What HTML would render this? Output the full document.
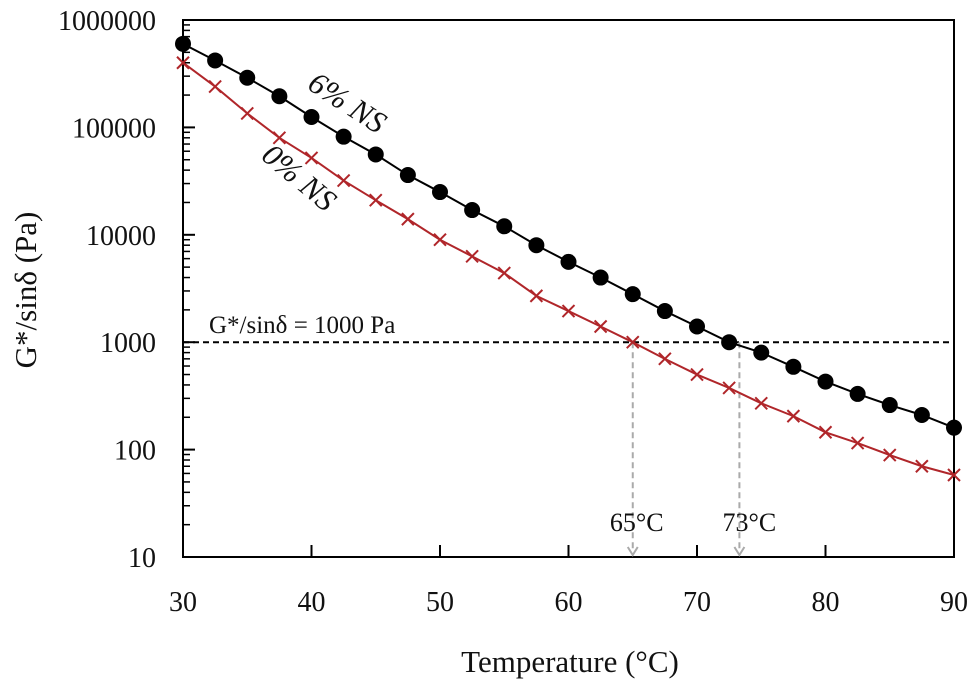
<!DOCTYPE html>
<html><head><meta charset="utf-8"><style>
body{margin:0;background:#fff}
svg text{font-family:"Liberation Serif",serif;fill:#111}
</style></head><body>
<svg id="chart" width="975" height="684" xmlns="http://www.w3.org/2000/svg"></svg>
<script>
const temps=[30,32.5,35,37.5,40,42.5,45,47.5,50,52.5,55,57.5,60,62.5,65,67.5,70,72.5,75,77.5,80,82.5,85,87.5,90];
const ns6=[600000,420000,290000,195000,125000,82000,56000,36000,25000,17000,12000,8000,5600,4000,2800,1950,1400,1000,800,590,430,330,260,210,160];
const ns0=[400000,240000,135000,80000,52000,32000,21000,14000,9000,6300,4400,2700,1950,1400,1000,700,500,375,270,205,145,115,89,70,58];
const xTicks=[30,40,50,60,70,80,90];
const yTicks=[10,100,1000,10000,100000,1000000];
const markers=[65,73.3];
const NS="http://www.w3.org/2000/svg";
const svg=document.getElementById('chart');
const L=183,R=954,T=20,B=557;
const X=v=>L+(v-30)/60*(R-L);
const Y=v=>B-(Math.log10(v)-1)/5*(B-T);
function el(t,a,p){const e=document.createElementNS(NS,t);for(const k in a)e.setAttribute(k,a[k]);(p||svg).appendChild(e);return e;}
let f=el('rect',{x:L,y:T,width:R-L,height:B-T,fill:'none',stroke:'#000','stroke-width':2});


yTicks.forEach(v=>{
 const y=Y(v);
 const t=el('text',{x:156,y:y+10,'text-anchor':'end','font-size':28});t.textContent=v;
 
 
 el('line',{x1:L,x2:L+12,y1:y,y2:y,stroke:'#000','stroke-width':2});
 if(v<1000000)for(let m=2;m<10;m++){const ym=Y(v*m);el('line',{x1:L,x2:L+7,y1:ym,y2:ym,stroke:'#000','stroke-width':1.5});}
});
xTicks.forEach(v=>{
 const x=X(v);
 el('line',{x1:x,x2:x,y1:B,y2:B-12,stroke:'#000','stroke-width':2});
 const t=el('text',{x:x,y:611,'text-anchor':'middle','font-size':28});t.textContent=v;
 
 
});
let t=el('text',{x:570,y:672,'text-anchor':'middle','font-size':31});t.textContent='Temperature (°C)';


t=el('text',{x:0,y:0,'text-anchor':'middle','font-size':31,transform:'translate(36,290) rotate(-90)'});t.textContent='G*/sinδ (Pa)';


let d=el('line',{x1:L,x2:R,y1:Y(1000),y2:Y(1000),stroke:'#000','stroke-width':2,'stroke-dasharray':'6,4'});


t=el('text',{x:209,y:333,'font-size':25});t.textContent='G*/sinδ = 1000 Pa';


markers.forEach(m=>{
 const x=X(m);
 const g=el('g',{});
 
 
 el('line',{x1:x,x2:x,y1:Y(1000),y2:B-6,stroke:'#aaa','stroke-width':2,'stroke-dasharray':'6,4'},g);
 el('path',{d:`M${x-5},${B-10} L${x},${B-2} L${x+5},${B-10}`,fill:'none',stroke:'#aaa','stroke-width':2},g);
 const tt=el('text',{x:x+(m<70?4:10),y:531,'text-anchor':'middle','font-size':26},g);tt.textContent=Math.round(m)+'°C';
});
function pts(arr){return temps.map((x,i)=>X(x)+','+Y(arr[i])).join(' ');}
let l=el('polyline',{points:pts(ns0),fill:'none',stroke:'#b0262a','stroke-width':2});


temps.forEach((x,i)=>{const cx=X(x),cy=Y(ns0[i]);
 const p=el('path',{d:`M${cx-6},${cy-6}L${cx+6},${cy+6}M${cx-6},${cy+6}L${cx+6},${cy-6}`,stroke:'#b0262a','stroke-width':2});
 
 
});
l=el('polyline',{points:pts(ns6),fill:'none',stroke:'#000','stroke-width':2});


temps.forEach((x,i)=>{
 const c=el('circle',{cx:X(x),cy:Y(ns6[i]),r:8,fill:'#000'});
 
 
});
t=el('text',{x:0,y:0,'font-size':31,'font-style':'italic',transform:'translate(306,88) rotate(33)'});t.textContent='6% NS';


t=el('text',{x:0,y:0,'font-size':31,'font-style':'italic',transform:'translate(260,158) rotate(40)'});t.textContent='0% NS';


</script>
</body></html>
